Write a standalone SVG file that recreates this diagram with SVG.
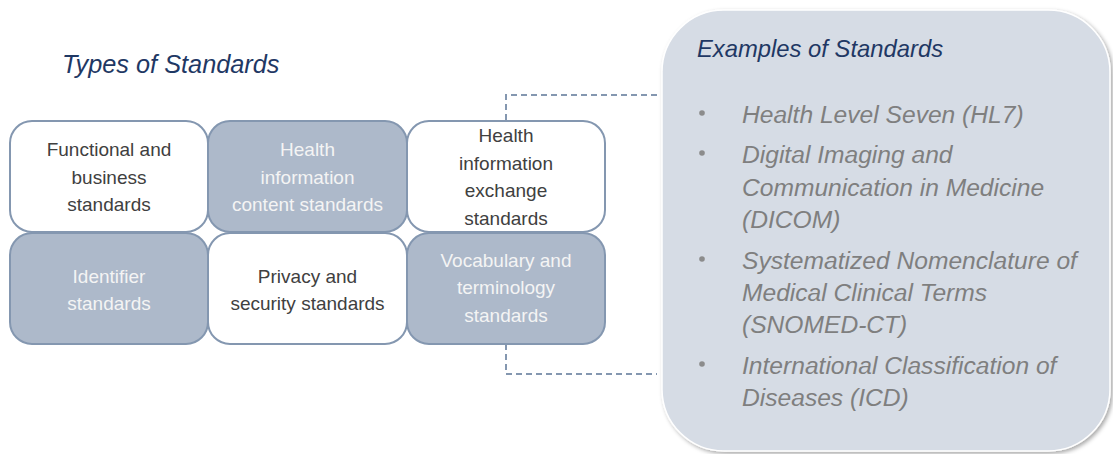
<svg xmlns="http://www.w3.org/2000/svg" width="1113" height="454" viewBox="0 0 1113 454">
<defs>
<filter id="sh" x="-5%" y="-5%" width="115%" height="115%">
<feDropShadow dx="2" dy="2" stdDeviation="2" flood-color="#000" flood-opacity="0.35"/>
</filter>
<style>
.box{stroke:#8497b0;stroke-width:2}
.lt{fill:#ffffff}
.dk{fill:#adb9ca}
.t{font-family:"Liberation Sans",Arial,sans-serif;font-size:19px;text-anchor:middle}
.td{fill:#404040}
.tw{fill:#f4f4f4}
.title{font-family:"Liberation Sans",Arial,sans-serif;font-style:italic;fill:#1f3864}
.b{font-family:"Liberation Sans",Arial,sans-serif;font-style:italic;font-size:24.6px;fill:#7f7f7f}
.dot{fill:#8c8c8c}
.dash{fill:none;stroke:#8497b0;stroke-width:2;stroke-dasharray:6 4}
</style>
</defs>
<rect width="1113" height="454" fill="#ffffff"/>
<text class="title" x="62" y="73" font-size="25.3">Types of Standards</text>

<g id="connectors">
<path class="dash" d="M657,95 H506 V121"/>
<path class="dash" d="M506,344 V374 H657"/>
</g>

<g id="n1">
<rect class="box lt" x="10" y="121" width="198" height="111" rx="22"/>
<text class="t td" x="109" y="156">Functional and</text>
<text class="t td" x="109" y="184">business</text>
<text class="t td" x="109" y="211">standards</text>
</g>
<g id="n2">
<rect class="box dk" x="208" y="121" width="199" height="111" rx="22"/>
<text class="t tw" x="307.5" y="156">Health</text>
<text class="t tw" x="307.5" y="184">information</text>
<text class="t tw" x="307.5" y="211">content standards</text>
</g>
<g id="n3">
<rect class="box lt" x="407" y="121" width="198" height="111" rx="22"/>
<text class="t td" x="506" y="142">Health</text>
<text class="t td" x="506" y="170">information</text>
<text class="t td" x="506" y="197">exchange</text>
<text class="t td" x="506" y="225">standards</text>
</g>
<g id="n4">
<rect class="box dk" x="10" y="233" width="198" height="111" rx="22"/>
<text class="t tw" x="109" y="283">Identifier</text>
<text class="t tw" x="109" y="310">standards</text>
</g>
<g id="n5">
<rect class="box lt" x="208" y="233" width="199" height="111" rx="22"/>
<text class="t td" x="307.5" y="283">Privacy and</text>
<text class="t td" x="307.5" y="310">security standards</text>
</g>
<g id="n6">
<rect class="box dk" x="407" y="233" width="198" height="111" rx="22"/>
<text class="t tw" x="506" y="267">Vocabulary and</text>
<text class="t tw" x="506" y="294">terminology</text>
<text class="t tw" x="506" y="322">standards</text>
</g>

<g id="examples">
<rect x="662" y="10" width="448" height="441" rx="62" fill="#d6dce5" stroke="#ffffff" stroke-width="1.5" filter="url(#sh)"/>
<text class="title" x="697" y="57" font-size="23.8">Examples of Standards</text>
<circle class="dot" cx="702" cy="113" r="2.8"/>
<text class="b" x="742" y="123">Health Level Seven (HL7)</text>
<circle class="dot" cx="702" cy="153" r="2.8"/>
<text class="b" x="742" y="163">Digital Imaging and</text>
<text class="b" x="742" y="196">Communication in Medicine</text>
<text class="b" x="742" y="228">(DICOM)</text>
<circle class="dot" cx="702" cy="259" r="2.8"/>
<text class="b" x="742" y="269">Systematized Nomenclature of</text>
<text class="b" x="742" y="301">Medical Clinical Terms</text>
<text class="b" x="742" y="333">(SNOMED-CT)</text>
<circle class="dot" cx="702" cy="364" r="2.8"/>
<text class="b" x="742" y="374">International Classification of</text>
<text class="b" x="742" y="406">Diseases (ICD)</text>
</g>
</svg>
